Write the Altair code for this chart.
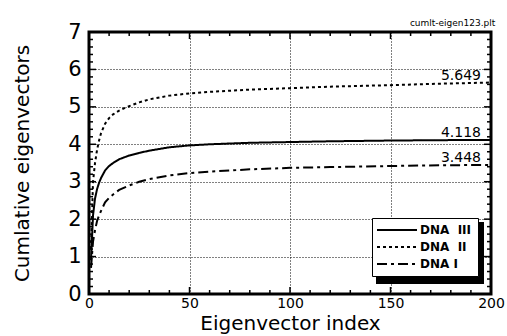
import altair as alt
import pandas as pd

# ---- data ----
index = [1, 2, 3, 4, 5, 6, 8, 10, 12, 15, 20, 25, 30, 40, 50, 60, 80, 100, 120, 150, 175, 200]
dna3 = [0.9, 2.1, 2.55, 2.8, 2.97, 3.1, 3.3, 3.42, 3.5, 3.6, 3.7, 3.77, 3.83, 3.92, 3.97, 4.0, 4.04, 4.06, 4.08, 4.1, 4.11, 4.118]
dna2 = [1.2, 3.0, 3.5, 3.85, 4.1, 4.3, 4.55, 4.7, 4.8, 4.9, 5.02, 5.12, 5.2, 5.3, 5.36, 5.4, 5.46, 5.5, 5.54, 5.58, 5.62, 5.649]
dna1 = [0.7, 1.4, 1.7, 1.95, 2.1, 2.22, 2.45, 2.57, 2.66, 2.78, 2.9, 3.0, 3.07, 3.17, 3.23, 3.27, 3.33, 3.37, 3.39, 3.42, 3.44, 3.448]
series_names = ["DNA\u00a0 III", "DNA\u00a0 II", "DNA I"]
end_labels = ["4.118", "5.649", "3.448"]
x_major = [0, 50, 100, 150, 200]
y_major = [0, 1, 2, 3, 4, 5, 6, 7]
x_minor = [v for v in range(0, 201, 10) if v % 50]
y_minor = [round(0.2 * k, 1) for k in range(36) if k % 5]

FONT = "DejaVu Sans"
W, H = 402, 262

rows = []
for name, vals in zip(series_names, [dna3, dna2, dna1]):
    for i, v in zip(index, vals):
        rows.append({"idx": i, "value": v, "series": name})
df = pd.DataFrame(rows)

lab_df = pd.DataFrame({
    "idx": [index[-1]] * 3,
    "value": [dna3[-1], dna2[-1], dna1[-1]],
    "label": end_labels,
})

xs = alt.Scale(domain=[0, 200], nice=False, zero=False)
ys = alt.Scale(domain=[0, 7], nice=False, zero=False)

x_axis = alt.Axis(values=x_major, title="Eigenvector index", ticks=False, domain=False,
                  grid=True, gridDash=[1, 2], gridColor="black", gridOpacity=1, gridWidth=1,
                  labelFontSize=14, labelPadding=2, labelFlush=False, labelOverlap=False,
                  labelColor="black", titleColor="black", titleFontSize=20,
                  titleFontWeight="normal", titleY=35, titleBaseline="alphabetic")
y_axis = alt.Axis(values=y_major, title="Cumlative eigenvectors", ticks=False, domain=False,
                  grid=True, gridDash=[1, 2], gridColor="black", gridOpacity=1, gridWidth=1,
                  labelFontSize=21, labelPadding=8, labelFlush=False, labelOverlap=False,
                  labelColor="black", titleColor="black", titleFontSize=20,
                  titleFontWeight="normal", titleAngle=270, titleX=-61, titleY=131,
                  titleBaseline="alphabetic", titleAlign="center")

legend = alt.Legend(title=None, orient="none", legendX=283, legendY=186,
                    fillColor="white", strokeColor="black", padding=6,
                    symbolType="M-5,0H5", symbolSize=64, symbolStrokeWidth=2,
                    symbolStrokeColor="black", symbolOffset=13,
                    labelFontSize=12, labelFontWeight="bold", labelOffset=17,
                    labelColor="black", rowPadding=5)

shadow = alt.Chart(pd.DataFrame({"a": [0]})).mark_rect(color="black").encode(
    x=alt.value(287), x2=alt.value(395), y=alt.value(190), y2=alt.value(252))

lines = alt.Chart(df).mark_line(color="black", strokeWidth=2, clip=True).encode(
    x=alt.X("idx:Q", scale=xs, axis=x_axis),
    y=alt.Y("value:Q", scale=ys, axis=y_axis),
    strokeDash=alt.StrokeDash("series:N",
                              scale=alt.Scale(domain=series_names,
                                              range=[[1, 0], [3, 3], [10, 4, 3, 4]]),
                              legend=legend),
)

labels = alt.Chart(lab_df).mark_text(align="right", baseline="alphabetic", dx=-10, dy=-3,
                                     fontSize=14, color="black", font=FONT).encode(
    x=alt.X("idx:Q", scale=xs, axis=x_axis),
    y=alt.Y("value:Q", scale=ys, axis=y_axis),
    text="label:N",
)


def xticks(vals, length):
    d = pd.DataFrame({"v": vals})
    b = alt.Chart(d).mark_rule(color="black", strokeWidth=1.5).encode(
        x=alt.X("v:Q", scale=xs, axis=x_axis), y=alt.value(H), y2=alt.value(H - length))
    t = alt.Chart(d).mark_rule(color="black", strokeWidth=1.5).encode(
        x=alt.X("v:Q", scale=xs, axis=x_axis), y=alt.value(0), y2=alt.value(length))
    return [b, t]


def yticks(vals, length):
    d = pd.DataFrame({"v": vals})
    l = alt.Chart(d).mark_rule(color="black", strokeWidth=1.5).encode(
        y=alt.Y("v:Q", scale=ys, axis=y_axis), x=alt.value(0), x2=alt.value(length))
    r = alt.Chart(d).mark_rule(color="black", strokeWidth=1.5).encode(
        y=alt.Y("v:Q", scale=ys, axis=y_axis), x=alt.value(W), x2=alt.value(W - length))
    return [l, r]


tick_layers = xticks(x_major, 7) + xticks(x_minor, 4) + yticks(y_major, 7) + yticks(y_minor, 4)

chart = alt.layer(lines, *tick_layers, labels, shadow).properties(
    width=W, height=H,
    autosize=alt.AutoSizeParams(type="none"),
    padding={"left": 89, "top": 32, "right": 16, "bottom": 42},
    title=alt.Title("cumlt-eigen123.plt", anchor="end", fontSize=9, font=FONT,
                    fontWeight="normal", offset=6, dx=-9, dy=13, color="black"),
).configure(font=FONT, background="white").configure_view(stroke="black", strokeWidth=3)

chart.save("out.html", embed_options={"renderer": "svg", "actions": False})
